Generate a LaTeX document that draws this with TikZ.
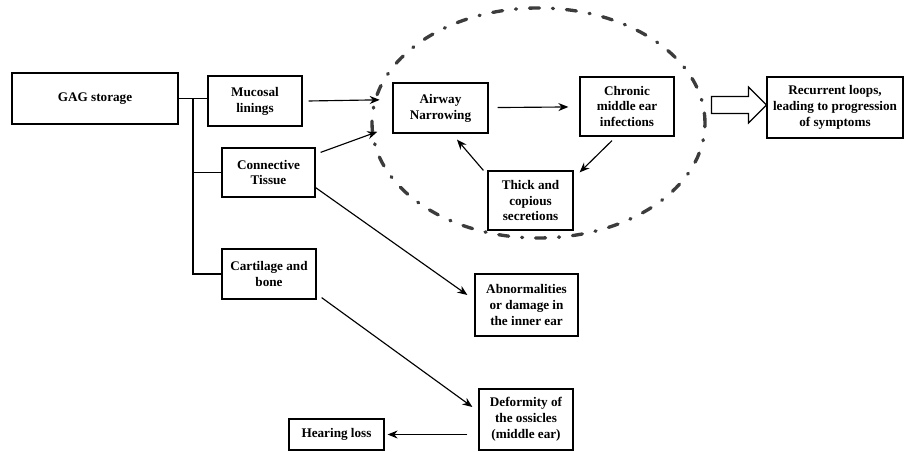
\documentclass[tikz,border=0pt]{standalone}
\usepackage{fontspec}
\setmainfont{Liberation Serif}
\usetikzlibrary{arrows.meta,calc,shapes.geometric}
\definecolor{CicloGris}{HTML}{3C3C3C}

\begin{document}
\begin{tikzpicture}[
      caja/.style={rectangle, draw=black, line width=0.7pt, align=center,
        font=\fontsize{7.5}{9}\selectfont\bfseries, inner sep=2pt},
      rama/.style={draw=black, line width=0.6pt},
      flecha/.style={-{Stealth[length=2mm,width=1.6mm]}, draw=black, line width=0.65pt},
      hueca/.style={draw=black, line width=0.7pt, fill=white, line join=miter},
      ciclo/.style={ellipse, draw=CicloGris, line width=1.9pt, line cap=round,
        dash pattern=on 0.2cm off 0.26cm on 0.02cm off 0.26cm,
        minimum width=6.66cm, minimum height=4.6cm},
    ]
    \useasboundingbox (0,0) rectangle (18.1,9.04);

    \node[ciclo] (loop) at (10.77,6.58) {};

    \node[caja, minimum width=3.32cm, minimum height=1.02cm] (gag)       at (1.90,7.07)  {GAG storage};
    \node[caja, minimum width=1.88cm, minimum height=1.00cm] (mucosal)   at (5.10,7.02)  {Mucosal\\linings};
    \node[caja, minimum width=1.86cm, minimum height=0.98cm] (connect)   at (5.37,5.59)  {Connective\\Tissue};
    \node[caja, minimum width=1.88cm, minimum height=1.00cm] (cartilage) at (5.38,3.56)  {Cartilage and\\bone};
    \node[caja, minimum width=1.90cm, minimum height=1.00cm] (airway)    at (8.81,6.88)  {Airway\\Narrowing};
    \node[caja, minimum width=1.88cm, minimum height=1.18cm] (chronic)   at (12.54,6.91) {Chronic\\middle ear\\infections};
    \node[caja, minimum width=1.70cm, minimum height=1.18cm] (thick)     at (10.61,5.03) {Thick and\\copious\\secretions};
    \node[caja, minimum width=2.72cm, minimum height=1.22cm] (recurrent) at (16.70,6.89) {Recurrent loops,\\leading to progression\\of symptoms};
    \node[caja, minimum width=2.06cm, minimum height=1.24cm] (inner)     at (10.53,2.94) {Abnormalities\\or damage in\\the inner ear};
    \node[caja, minimum width=1.88cm, minimum height=1.22cm] (ossicles)  at (10.52,0.65) {Deformity of\\the ossicles\\(middle ear)};
    \node[caja, minimum width=1.90cm, minimum height=0.62cm] (hearing)   at (6.73,0.35)  {Hearing loss};

    % arbol desde GAG storage
    \coordinate (tronco) at (3.86,7.07);
    \draw[rama] (gag.east) -- (gag.east -| mucosal.west);
    \draw[rama] (tronco) |- (cartilage.west);
    \draw[rama] (tronco |- connect.west) -- (connect.west);

    % entradas al ciclo
    \draw[flecha] ([xshift=0.12cm]mucosal.east) -- ([xshift=0.12cm]loop.172);
    \draw[flecha] ([shift={(0.1,-0.1)}]connect.north east) -- ([xshift=0.13cm]loop.183);

    % ciclo
    \draw[flecha, shorten <=0.18cm, shorten >=0.22cm] (airway) -- (chronic);
    \draw[flecha] ([shift={(-0.3,-0.08)}]chronic.south) -- ([shift={(0.12,-0.04)}]thick.north east);
    \draw[flecha] ([xshift=-0.08cm]thick.north west) -- ([shift={(0.33,-0.12)}]airway.south);

    % salida hueca
    \draw[hueca] ([yshift=0.05cm]recurrent.west) -- ++(-0.36,0.36) -- ++(0,-0.19) -- ++(-0.74,0)
      -- ++(0,-0.34) -- ++(0.74,0) -- ++(0,-0.19) -- cycle;

    % oido
    \draw[flecha] ([yshift=0.2cm]connect.south east) -- ([shift={(-0.14,0.2)}]inner.west);
    \draw[flecha] ([shift={(0.1,0.04)}]cartilage.south east) -- ([shift={(-0.12,0.25)}]ossicles.west);
    \draw[flecha] ($(ossicles.west |- hearing.east)+(-0.22,0)$) -- ([xshift=0.06cm]hearing.east);

  \end{tikzpicture}
\end{document}
